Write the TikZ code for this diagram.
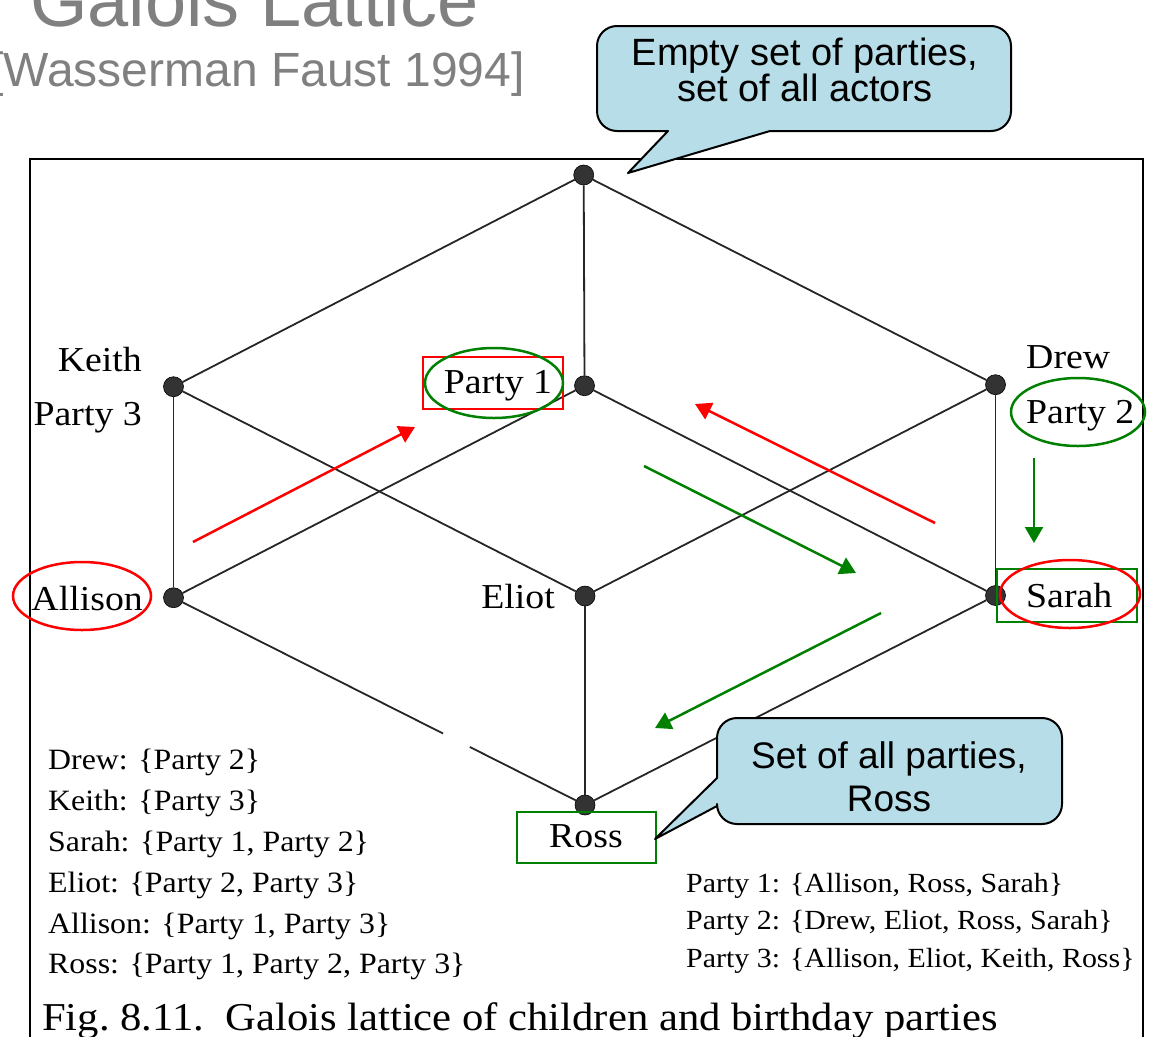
\documentclass[tikz,border=0pt]{standalone}
\usepackage{fontspec}
\setmainfont{Liberation Sans}
\newfontfamily\bookfont[FakeStretch=1.08]{Liberation Serif}
\usetikzlibrary{arrows.meta,shapes.geometric,calc}
\definecolor{titlegray}{HTML}{808080}
\definecolor{calloutblue}{HTML}{B7DEE8}
\definecolor{hired}{HTML}{FF0000}
\definecolor{higreen}{HTML}{008000}

\begin{document}
\begin{tikzpicture}[x=1pt,y=-1pt,
  vertex/.style={circle,fill=black!80,draw=black,line width=0.6pt,minimum size=20pt,inner sep=0pt},
  edge/.style={draw=black!85,line width=1.8pt},
  lbl/.style={font=\bookfont\fontsize{35}{40}\selectfont,inner sep=0pt},
  listtxt/.style={font=\bookfont\fontsize{29.5}{34}\selectfont,inner sep=0pt,anchor=base west},
  partytxt/.style={font=\bookfont\fontsize{27.7}{32}\selectfont,inner sep=0pt,anchor=base west},
  callout/.style={fill=calloutblue,draw=black,line width=2pt,line join=round},
  callouttxt/.style={font=\fontsize{37}{42}\selectfont,inner sep=0pt,anchor=base},
  ring/.style={ellipse,draw,line width=2.5pt,inner sep=0pt},
  hibox/.style={rectangle,draw,line width=2.5pt,inner sep=0pt},
  hint/.style={line width=2.5pt,-{Triangle[length=16pt,width=18pt]}},
]
\useasboundingbox (0,0) rectangle (1150,1036);

% heading
\node[anchor=base west,inner sep=0pt,text=titlegray,font=\fontsize{74}{80}\selectfont] (title) at (30,26) {Galois Lattice};
\node[anchor=base west,inner sep=0pt,text=titlegray,font=\fontsize{48}{54}\selectfont] (source) at (-10,86) {[Wasserman Faust 1994]};

% figure frame
\draw[line width=2pt] (30,159) rectangle (1143,1045);

% lattice vertices
\node[vertex] (top) at (583.7,175) {};
\node[vertex] (keith) at (173.5,386.7) {};
\node[vertex] (p1) at (584.5,385.7) {};
\node[vertex] (drew) at (995.5,384.7) {};
\node[vertex] (allison) at (173.5,597.7) {};
\node[vertex] (eliot) at (585,596) {};
\node[vertex] (sarah) at (995.5,595.5) {};
\node[vertex] (ross) at (585,805) {};

% lattice edges
\draw[edge] (top) -- (keith);
\draw[edge] (top) -- (p1);
\draw[edge] (top) -- (drew);
\draw[edge] (keith) -- (allison);
\draw[edge] (keith) -- (eliot);
\draw[edge] (p1) -- (allison);
\draw[edge] (p1) -- (sarah);
\draw[edge] (drew) -- (eliot);
\draw[edge] (drew) -- (sarah);
\draw[edge] (allison) -- ($(allison)!0.655!(ross)$);
\draw[edge] ($(allison)!0.72!(ross)$) -- (ross);
\draw[edge] (eliot) -- (ross);
\draw[edge] (sarah) -- (ross);

% vertex labels
\node[lbl,anchor=base east] (keithlbl) at (142,371) {Keith};
\node[lbl,anchor=base east] (party3lbl) at (142,425) {Party 3};
\node[lbl,anchor=base east] (allisonlbl) at (143,610) {Allison};
\node[lbl,anchor=base] (party1lbl) at (498,393) {Party 1};
\node[lbl,anchor=base west] (drewlbl) at (1026,368) {Drew};
\node[lbl,anchor=base west] (party2lbl) at (1026,423) {Party 2};
\node[lbl,anchor=base] (eliotlbl) at (518,608) {Eliot};
\node[lbl,anchor=base west] (sarahlbl) at (1026,607) {Sarah};
\node[lbl,anchor=base] (rosslbl) at (586,847) {Ross};

% incidence lists
\node[listtxt] (l1) at (48,769) {Drew: \{Party 2\}};
\node[listtxt] (l2) at (48,810) {Keith: \{Party 3\}};
\node[listtxt] (l3) at (48,851) {Sarah: \{Party 1, Party 2\}};
\node[listtxt] (l4) at (48,892) {Eliot: \{Party 2, Party 3\}};
\node[listtxt] (l5) at (48,933) {Allison: \{Party 1, Party 3\}};
\node[listtxt] (l6) at (48,973) {Ross: \{Party 1, Party 2, Party 3\}};
\node[partytxt] (r1) at (686,892) {Party 1: \{Allison, Ross, Sarah\}};
\node[partytxt] (r2) at (686,929) {Party 2: \{Drew, Eliot, Ross, Sarah\}};
\node[partytxt] (r3) at (686,967) {Party 3: \{Allison, Eliot, Keith, Ross\}};
\node[anchor=base west,inner sep=0pt,font=\bookfont\fontsize{39.5}{44}\selectfont] (caption) at (42,1030) {Fig.~8.11.\ \ Galois lattice of children and birthday parties};

% highlights
\node[hibox,draw=hired,minimum width=140pt,minimum height=52pt] (p1box) at (493,383) {};
\node[ring,draw=higreen,minimum width=138pt,minimum height=70pt] (p1ring) at (494,383) {};
\node[ring,draw=higreen,minimum width=134pt,minimum height=68pt] (p2ring) at (1078,412) {};
\node[hibox,draw=higreen,minimum width=140pt,minimum height=53pt] (sarahbox) at (1067,595.5) {};
\node[ring,draw=hired,minimum width=140pt,minimum height=68pt] (sarahring) at (1070,594) {};
\node[ring,draw=hired,minimum width=138pt,minimum height=68pt] (allisonring) at (82,596) {};
\node[hibox,draw=higreen,minimum width=139pt,minimum height=51pt] (rossbox) at (586.5,837.5) {};

% closure arrows
\coordinate (ra1) at (193,542);  \coordinate (rb1) at (415,427);
\coordinate (ra2) at (935,523);  \coordinate (rb2) at (695,404);
\coordinate (ga1) at (644,466);  \coordinate (gb1) at (856,573);
\coordinate (ga2) at (881,613);  \coordinate (gb2) at (655,728);
\coordinate (ga3) at (1034,458); \coordinate (gb3) at (1034,543);
\draw[hint,draw=hired,fill=hired] (ra1) -- (rb1);
\draw[hint,draw=hired,fill=hired] (ra2) -- (rb2);
\draw[hint,draw=higreen,fill=higreen] (ga1) -- (gb1);
\draw[hint,draw=higreen,fill=higreen] (ga2) -- (gb2);
\draw[hint,draw=higreen,fill=higreen] (ga3) -- (gb3);

% callouts
\draw[callout] (628,173) -- (770,131) [rounded corners=20pt] -- (1011,131) -- (1011,26) -- (597,26) -- (597,131) [sharp corners] -- (668,131) -- cycle;
\node[callouttxt,font=\fontsize{38}{42}\selectfont] (c1a) at (805,65) {Empty set of parties,};
\node[callouttxt,font=\fontsize{38}{42}\selectfont] (c1b) at (805,101) {set of all actors};

\draw[callout] (655,839) -- (717,778) [rounded corners=20pt] -- (717,718) -- (1062,718) -- (1062,824) -- (717,824) [sharp corners] -- (717,806) -- cycle;
\node[callouttxt] (c2a) at (889,768) {Set of all parties,};
\node[callouttxt] (c2b) at (889,811) {Ross};
\end{tikzpicture}
\end{document}
